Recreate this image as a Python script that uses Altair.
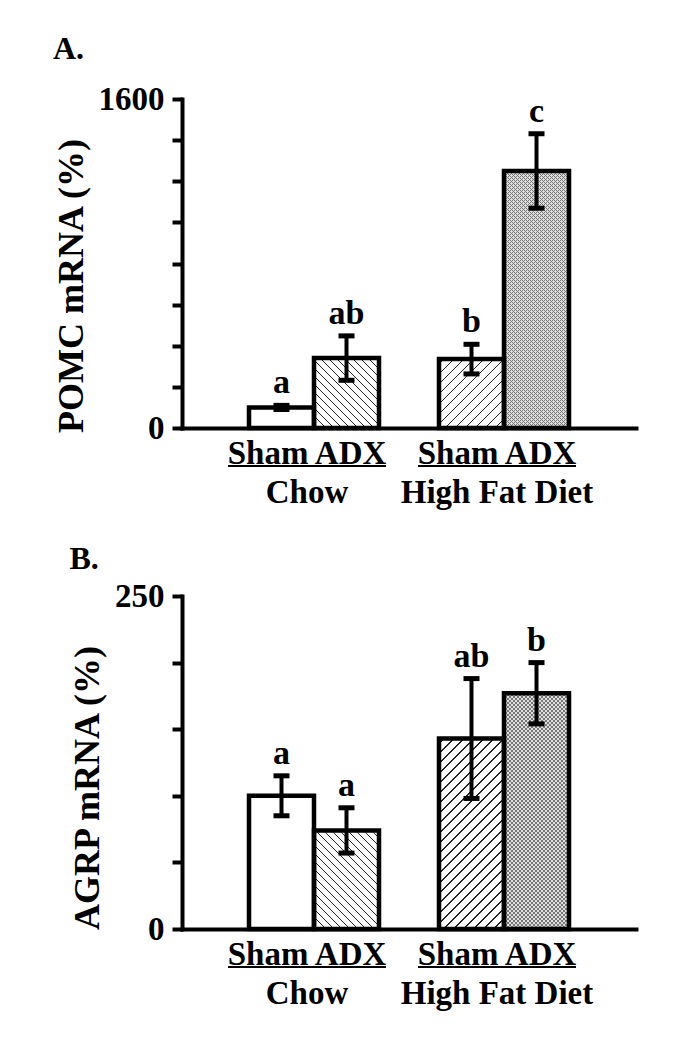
import altair as alt
import pandas as pd

# ---------------- data ----------------
diets = ["Chow", "Chow", "High Fat Diet", "High Fat Diet"]
groups = ["Sham", "ADX", "Sham", "ADX"]
diet_order = ["Chow", "High Fat Diet"]
group_order = ["Sham", "ADX"]

pomc_mean = [100, 340, 335, 1250]
pomc_sem = [10, 108, 72, 181]
pomc_letters = ["a", "ab", "b", "c"]
pomc_ticks = [0, 200, 400, 600, 800, 1000, 1200, 1400, 1600]

agrp_mean = [100, 74, 143, 177]
agrp_sem = [15, 17, 45, 23]
agrp_letters = ["a", "a", "ab", "b"]
agrp_ticks = [0, 50, 100, 150, 200, 250]

# ---------------- styling ----------------
FONT = "Liberation Serif"
PLOT_W = 454
PAD_IN = 60 / 190
PAD_OUT = 67 / 190
STEP = PLOT_W / (2 - PAD_IN + 2 * PAD_OUT)
BAR_W = STEP * (1 - PAD_IN) / 2  # xOffset band width
# fill style per bar: (kind, spacing, line width, line colour, background)
fill_styles = [
    None,
    [("back", 8, 1.4, "#222222", "#ffffff")],
    [("fwd", 10, 1.4, "#222222", "#ffffff")],
    [("fwd", 4, 1.0, "#777777", "#dedede"), ("back", 4, 1.0, "#777777", "rgba(0,0,0,0)")],
]


def stripes(w, h, kind, period, lw, line, bg):
    """Linear gradient (bbox units) drawing 45 degree stripes on a w x h px rect."""
    L = w + h
    a = (w + h) * w / (w * w + h * h)
    if kind == "back":
        x1, y1, x2, y2 = 0, 1, a, 1 - a * h / w
    else:
        x1, y1, x2, y2 = 0, 0, a, a * h / w
    stops = [alt.GradientStop(offset=0, color=bg)]
    s = period / 2
    while s < L:
        o1 = max((s - lw / 2) / L, 0)
        o2 = min((s + lw / 2) / L, 1)
        stops += [
            alt.GradientStop(offset=o1, color=bg),
            alt.GradientStop(offset=o1, color=line),
            alt.GradientStop(offset=o2, color=line),
            alt.GradientStop(offset=o2, color=bg),
        ]
        s += period
    stops.append(alt.GradientStop(offset=1, color=bg))
    return alt.LinearGradient(gradient="linear", stops=stops, x1=x1, y1=y1, x2=x2, y2=y2)


def panel(means, sems, letters, ticks, height, ytitle, label, title_offset, title_shift):
    ymax = ticks[-1]
    df = pd.DataFrame({
        "diet": diets,
        "group": groups,
        "mean": means,
        "sem": sems,
        "letter": letters,
    })
    df["lo"] = df["mean"] - df["sem"]
    df["hi"] = df["mean"] + df["sem"]
    df["key"] = df["diet"] + "|" + df["group"]

    xsc = alt.Scale(domain=diet_order, paddingInner=PAD_IN, paddingOuter=PAD_OUT)
    x = alt.X(
        "diet:N",
        sort=diet_order,
        scale=xsc,
        axis=alt.Axis(
            title=None, ticks=False, labelAngle=0, labelLimit=0, labelOffset=-7,
            labelExpr="['Sham ADX', datum.label]",
            labelLineHeight=39, labelPadding=9, labelFontSize=33,
        ),
    )
    xo = alt.XOffset("group:N", sort=group_order, scale=alt.Scale(domain=group_order))
    y_axis = alt.Axis(
        values=ticks, format="d", tickSize=10,
        labelExpr=f"datum.value == 0 || datum.value == {ymax} ? datum.label : ''",
        labelPadding=8, title=ytitle, titlePadding=8,
        titleY=height / 2 + title_shift,
    )
    ysc = alt.Scale(domain=[0, ymax], nice=False)

    base = alt.Chart(df).encode(x=x, xOffset=xo)
    layers = [
        base.mark_bar(fill="white").encode(y=alt.Y("mean:Q", scale=ysc, axis=y_axis))
    ]
    for i, st in enumerate(fill_styles):
        if not st:
            continue
        h = means[i] / ymax * height
        for (kind, per, lw, line, bg) in st:
            layers.append(
                base.transform_filter(alt.datum.key == f"{diets[i]}|{groups[i]}")
                .mark_bar(fill=stripes(BAR_W, h, kind, per, lw, line, bg))
                .encode(y=alt.Y("mean:Q", scale=ysc))
            )
    layers.append(
        base.mark_bar(fill="white", fillOpacity=0, stroke="black", strokeWidth=4.5)
        .encode(y=alt.Y("mean:Q", scale=ysc))
    )
    layers.append(
        base.mark_rule(color="black", strokeWidth=4)
        .encode(y=alt.Y("lo:Q", scale=ysc), y2="hi:Q")
    )
    for fld in ["lo", "hi"]:
        layers.append(
            base.mark_tick(color="black", opacity=1, size=16, thickness=5)
            .encode(y=alt.Y(f"{fld}:Q", scale=ysc))
        )
    layers.append(
        base.mark_text(font=FONT, fontWeight="bold", fontSize=34, baseline="alphabetic",
                       dy=-12, color="black")
        .encode(y=alt.Y("hi:Q", scale=ysc), text="letter:N")
    )
    # underline under "Sham ADX"
    layers.append(
        alt.Chart(pd.DataFrame({"diet": diet_order}))
        .mark_tick(color="black", opacity=1, size=158, thickness=2, orient="horizontal",
                   xOffset=-7)
        .encode(x=alt.X("diet:N", sort=diet_order, scale=xsc), y=alt.value(height + 38))
    )
    return alt.layer(*layers).properties(
        width=PLOT_W,
        height=height,
        title=alt.TitleParams(label, anchor="start", frame="bounds", offset=title_offset,
                              font=FONT, fontSize=32, fontWeight="bold", color="black"),
    )


pA = panel(pomc_mean, pomc_sem, pomc_letters, pomc_ticks, 329, "POMC mRNA (%)", "A.", 17, 22)
pB = panel(agrp_mean, agrp_sem, agrp_letters, agrp_ticks, 333, "AGRP mRNA (%)", "B.", 4, 25)

chart = (
    alt.vconcat(pA, pB, spacing=34)
    .properties(padding={"left": 45, "top": 25, "right": 5, "bottom": 5}, background="white")
    .configure_view(stroke=None)
    .configure_axis(
        domainColor="black", domainWidth=4, domainCap="square",
        tickColor="black", tickWidth=4, grid=False,
        labelColor="black", titleColor="black",
        labelFont=FONT, titleFont=FONT,
        labelFontWeight="bold", titleFontWeight="bold",
        labelFontSize=33, titleFontSize=36,
    )
)

chart.save("out.html", embed_options={"renderer": "svg", "actions": False})
